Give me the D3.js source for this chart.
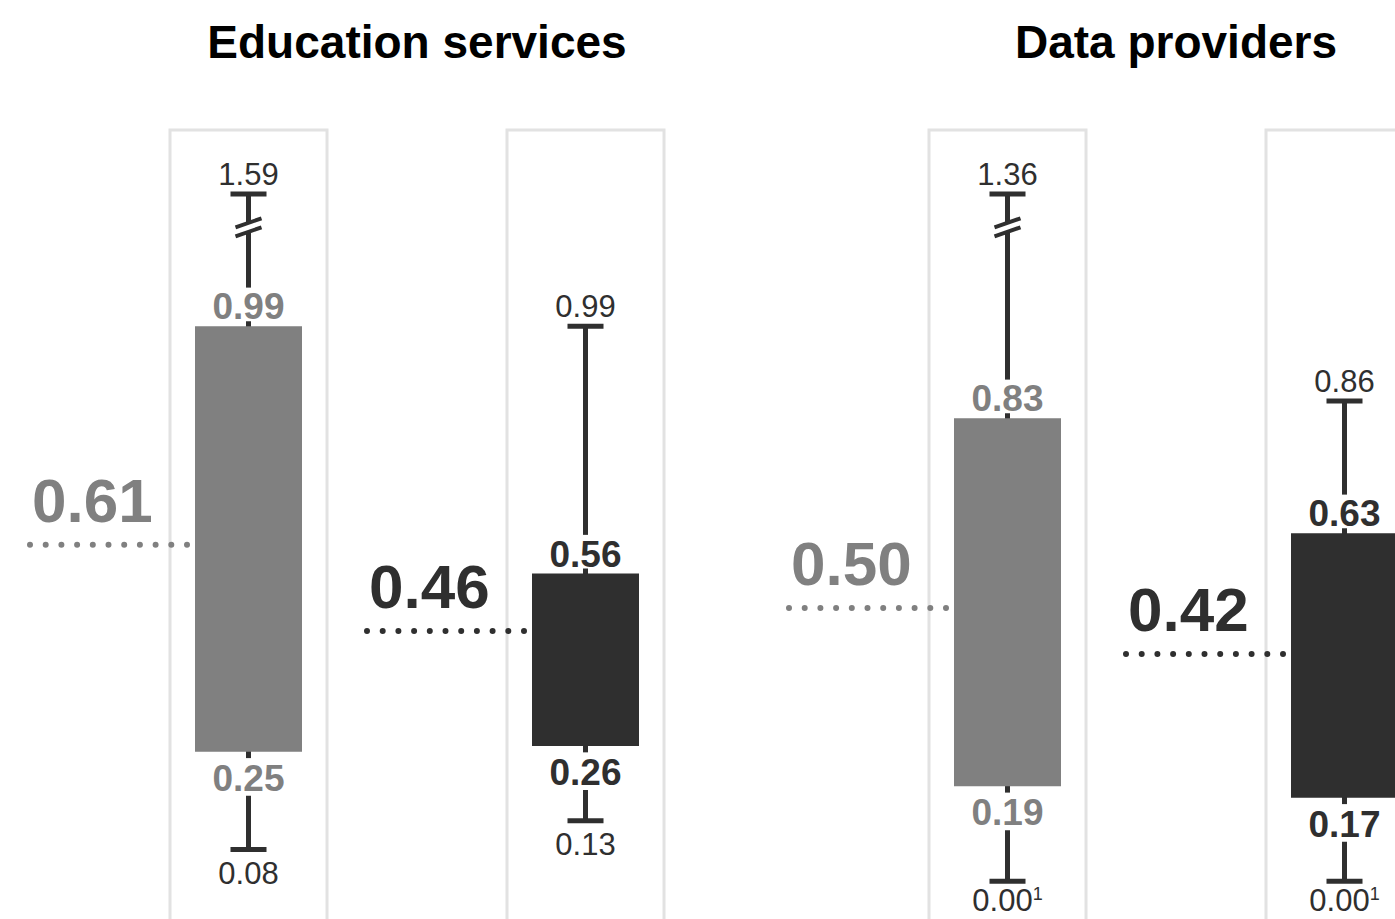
<!DOCTYPE html>
<html>
<head>
<meta charset="utf-8">
<script src="https://cdn.jsdelivr.net/npm/d3@7"></script>
<style>
  html, body { margin: 0; padding: 0; background: #fff; }
  svg { display: block; font-family: "Liberation Sans", Arial, Helvetica, sans-serif; }
</style>
</head>
<body>
<svg id="chart" width="1395" height="919"></svg>
<script>
// Sector groups and the two series shown side by side in each group
const groups = ["Education services", "Data providers"];
const seriesKeys = ["first", "second"];
const seriesColors = ["#808080", "#2f2f2f"];

// Box-plot statistics per group, one value per series
const whiskerMin = [[0.08, 0.13], [0.00, 0.00]];
const quartile1  = [[0.25, 0.26], [0.19, 0.17]];
const centre     = [[0.61, 0.46], [0.50, 0.42]];
const quartile3  = [[0.99, 0.56], [0.83, 0.63]];
const whiskerMax = [[1.59, 0.99], [1.36, 0.86]];
const minFootnote = [[null, null], ["1", "1"]];

// Axis break: whiskers reaching past this value are drawn broken at it;
// the lower end is kept above the floor so it stays inside the frame
const breakAt = 1.22;
const floorAt = 0.025;

const svg = d3.select("#chart");
const W = 1395, H = 919;

const xGroup = d3.scalePoint().domain(groups).range([417, 1176]);
const xSeries = d3.scalePoint().domain(seriesKeys).range([-168.5, 168.5]);
const y = d3.scaleLinear().domain([0, 1]).range([895.5, 320.5]);

const panelW = 157, boxW = 107, capW = 36, lineW = 5;
const ink = "#2f2f2f";
const qSize = 37, endSize = 31;

// Group titles
svg.selectAll("text.title")
  .data(groups)
  .join("text")
  .attr("class", "title")
  .attr("x", d => xGroup(d))
  .attr("y", 58)
  .attr("text-anchor", "middle")
  .attr("font-size", 46)
  .attr("font-weight", "bold")
  .attr("fill", "#000")
  .text(d => d);

// Flatten into one record per box
const boxes = [];
groups.forEach((g, gi) => {
  seriesKeys.forEach((s, si) => {
    boxes.push({
      group: g, series: s, color: seriesColors[si],
      cx: xGroup(g) + xSeries(s),
      min: whiskerMin[gi][si], q1: quartile1[gi][si], mid: centre[gi][si],
      q3: quartile3[gi][si], max: whiskerMax[gi][si], note: minFootnote[gi][si]
    });
  });
});

const fmt = d3.format(".2f");

boxes.forEach(b => {
  const g = svg.append("g");
  const left = b.cx - boxW / 2;

  // Panel frame
  g.append("rect")
    .attr("x", b.cx - panelW / 2).attr("y", 130)
    .attr("width", panelW).attr("height", H)
    .attr("fill", "none").attr("stroke", "#e2e2e2").attr("stroke-width", 3);

  const broken = b.max > breakAt;
  const yTop = y(broken ? breakAt : b.max);
  const yBot = y(Math.max(b.min, floorAt));

  // Whisker line
  g.append("line")
    .attr("x1", b.cx).attr("x2", b.cx)
    .attr("y1", yTop).attr("y2", yBot)
    .attr("stroke", ink).attr("stroke-width", lineW);

  // Caps
  [yTop, yBot].forEach(yy => {
    g.append("line")
      .attr("x1", b.cx - capW / 2).attr("x2", b.cx + capW / 2)
      .attr("y1", yy).attr("y2", yy)
      .attr("stroke", ink).attr("stroke-width", 5);
  });

  // Break marks on long whiskers
  if (broken) {
    const yb = y(breakAt - 0.058);
    const half = 13, tilt = 4.5, gap = 4.5;
    g.append("polygon")
      .attr("points", [
        [b.cx - half, yb + tilt - gap], [b.cx + half, yb - tilt - gap],
        [b.cx + half, yb - tilt + gap], [b.cx - half, yb + tilt + gap]
      ].map(p => p.join(",")).join(" "))
      .attr("fill", "#fff");
    [-gap, gap].forEach(o => {
      g.append("line")
        .attr("x1", b.cx - half).attr("y1", yb + tilt + o)
        .attr("x2", b.cx + half).attr("y2", yb - tilt + o)
        .attr("stroke", ink).attr("stroke-width", 4);
    });
  }

  // Box
  g.append("rect")
    .attr("x", left).attr("y", y(b.q3))
    .attr("width", boxW).attr("height", y(b.q1) - y(b.q3))
    .attr("fill", b.color);

  // Quartile labels, with a white backing that cuts the whisker around them
  const qLabel = (val, base, padTop, padBot) => {
    const t = g.append("text")
      .attr("x", b.cx).attr("y", base)
      .attr("text-anchor", "middle")
      .attr("font-size", qSize).attr("font-weight", "bold")
      .attr("fill", b.color)
      .text(fmt(val));
    const bb = t.node().getBBox();
    g.insert("rect", () => t.node())
      .attr("x", bb.x - 2).attr("width", bb.width + 4)
      .attr("y", base - 0.72 * qSize - padTop)
      .attr("height", 0.72 * qSize + padTop + padBot)
      .attr("fill", "#fff");
  };
  qLabel(b.q3, y(b.q3) - 7, 5, 2);
  qLabel(b.q1, y(b.q1) + 39, 6, 5);

  // Whisker end labels
  g.append("text")
    .attr("x", b.cx).attr("y", yTop - 9)
    .attr("text-anchor", "middle")
    .attr("font-size", endSize).attr("fill", ink)
    .text(fmt(b.max));
  const lo = g.append("text")
    .attr("x", b.cx).attr("y", Math.min(yBot + 34, H - 8))
    .attr("text-anchor", "middle")
    .attr("font-size", endSize).attr("fill", ink)
    .text(fmt(b.min));
  if (b.note) {
    lo.append("tspan")
      .attr("dy", -11).attr("font-size", 18)
      .text(b.note);
  }

  // Dotted leader for the centre value and its large label
  const x0 = left - 165;
  g.append("path")
    .attr("d", d3.line()([[x0, y(b.mid)], [left, y(b.mid)]]))
    .attr("stroke", b.color).attr("stroke-width", 6)
    .attr("stroke-linecap", "round")
    .attr("stroke-dasharray", "0 15.7")
    .attr("fill", "none");
  g.append("text")
    .attr("x", x0 + 2).attr("y", y(b.mid) - 23)
    .attr("font-size", 62).attr("font-weight", "bold")
    .attr("fill", b.color)
    .text(fmt(b.mid));
});
</script>
</body>
</html>
